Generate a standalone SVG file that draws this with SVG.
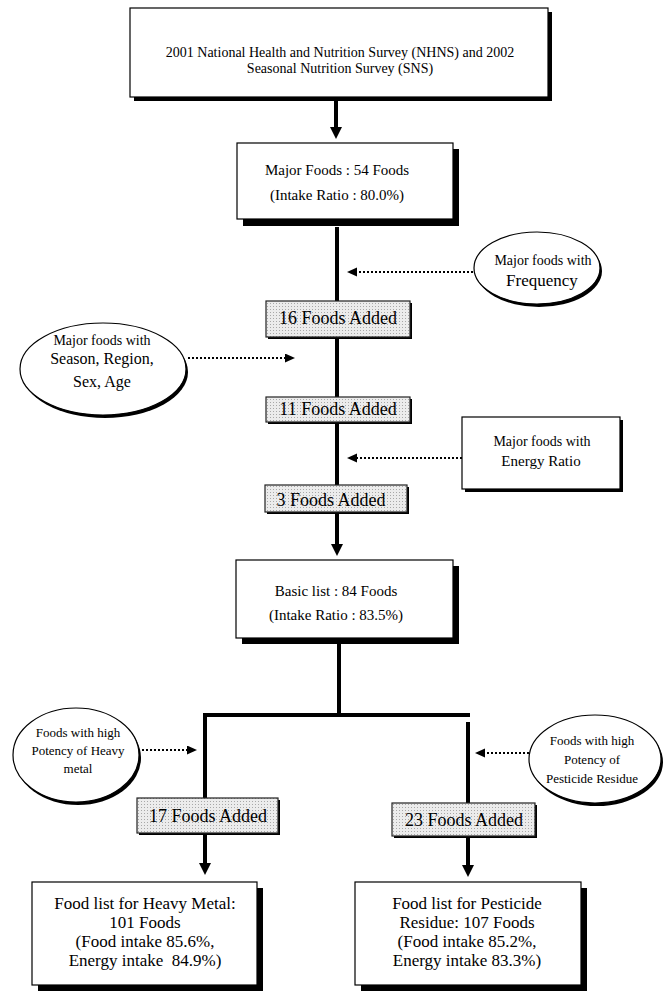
<svg xmlns="http://www.w3.org/2000/svg" width="668" height="992" viewBox="0 0 668 992">
<style>
text{font-family:"Liberation Serif","Times New Roman",serif;fill:#000;text-anchor:middle}
.box{fill:#fff;stroke:#000;stroke-width:1.2}
.shadow{fill:#000}
.added{fill:url(#dither);stroke:#222;stroke-width:1.2}
.ell{fill:#fff;stroke:#000;stroke-width:1.2}
.main{fill:none;stroke:#000;stroke-width:4}
.dot{fill:none;stroke:#000;stroke-width:2;stroke-dasharray:2 2}
.t14{font-size:14px}.t15{font-size:15px}.t16{font-size:16px}.t17{font-size:17px}.t18{font-size:18px}.t13{font-size:13px}
</style>
<defs>
<pattern id="dither" width="3" height="3" patternUnits="userSpaceOnUse">
<rect width="3" height="3" fill="#ececec"/>
<rect width="1" height="1" fill="#a8a8a8"/>
</pattern>
<marker id="head" markerUnits="userSpaceOnUse" markerWidth="12" markerHeight="12" refX="0" refY="6" orient="auto">
<path d="M0,0 L12,6 L0,12 z" fill="#000"/>
</marker>
<marker id="dhead" markerUnits="userSpaceOnUse" markerWidth="10" markerHeight="10" refX="0" refY="4.5" orient="auto">
<path d="M0,0 L10,4.5 L0,9 z" fill="#000"/>
</marker>
</defs>

<g id="connectors">
<path class="main" d="M336,101 V127" marker-end="url(#head)"/>
<path class="main" d="M337,227 V485"/>
<path class="main" d="M337,512 V544" marker-end="url(#head)"/>
<path class="main" d="M339,644 V715"/>
<path class="main" d="M203,715 H470"/>
<path class="main" d="M205,713 V863" marker-end="url(#head)"/>
<path class="main" d="M468,722 V865" marker-end="url(#head)"/>
<path class="dot" d="M473,272 H357" marker-end="url(#dhead)"/>
<path class="dot" d="M188,358 H285" marker-end="url(#dhead)"/>
<path class="dot" d="M462,458 H357" marker-end="url(#dhead)"/>
<path class="dot" d="M142,750 H187" marker-end="url(#dhead)"/>
<path class="dot" d="M529,753 H485" marker-end="url(#dhead)"/>
</g>

<g id="survey">
<rect class="shadow" x="134" y="12" width="418" height="89"/>
<rect class="box" x="130" y="8" width="418" height="89"/>
<text class="t14" x="340" y="57">2001 National Health and Nutrition Survey (NHNS) and 2002</text>
<text class="t14" x="340" y="73">Seasonal Nutrition Survey (SNS)</text>
</g>

<g id="major">
<rect class="shadow" x="243" y="149" width="216" height="77"/>
<rect class="box" x="237" y="143" width="216" height="76"/>
<text class="t15" x="337" y="175">Major Foods : 54 Foods</text>
<text class="t15" x="337" y="200">(Intake Ratio : 80.0%)</text>
</g>

<g id="frequency">
<ellipse class="shadow" cx="539" cy="271" rx="63" ry="36"/>
<ellipse class="ell" cx="537" cy="268" rx="63" ry="36"/>
<text class="t14" x="543" y="265">Major foods with</text>
<text class="t17" x="542" y="286">Frequency</text>
</g>

<g id="added16">
<rect class="shadow" x="268" y="303" width="144" height="36"/>
<rect class="added" x="266" y="301" width="144" height="36"/>
<text class="t18" x="338" y="324">16 Foods Added</text>
</g>

<g id="season">
<ellipse class="shadow" cx="105" cy="372" rx="83" ry="46"/>
<ellipse class="ell" cx="103" cy="369" rx="83" ry="46"/>
<text class="t14" x="102" y="345">Major foods with</text>
<text class="t16" x="102" y="364">Season, Region,</text>
<text class="t16" x="102" y="387">Sex, Age</text>
</g>

<g id="added11">
<rect class="shadow" x="268" y="399" width="144" height="25"/>
<rect class="added" x="266" y="397" width="144" height="25"/>
<text class="t18" x="338" y="415">11 Foods Added</text>
</g>

<g id="energy">
<rect class="shadow" x="465" y="420" width="158" height="72"/>
<rect class="box" x="462" y="417" width="158" height="72"/>
<text class="t14" x="542" y="446">Major foods with</text>
<text class="t15" x="541" y="466">Energy Ratio</text>
</g>

<g id="added3">
<rect class="shadow" x="267" y="487" width="142" height="27"/>
<rect class="added" x="265" y="485" width="142" height="27"/>
<text class="t18" x="331" y="506">3 Foods Added</text>
</g>

<g id="basic">
<rect class="shadow" x="242" y="566" width="217" height="78"/>
<rect class="box" x="236" y="560" width="217" height="78"/>
<text class="t15" x="336" y="596">Basic list : 84 Foods</text>
<text class="t15" x="336" y="620">(Intake Ratio : 83.5%)</text>
</g>

<g id="heavy">
<ellipse class="shadow" cx="78" cy="758" rx="63" ry="47"/>
<ellipse class="ell" cx="76" cy="755" rx="63" ry="47"/>
<text class="t13" x="78" y="737">Foods with high</text>
<text class="t13" x="78" y="755">Potency of Heavy</text>
<text class="t13" x="78" y="773">metal</text>
</g>

<g id="pesticide">
<ellipse class="shadow" cx="597" cy="762" rx="66" ry="44"/>
<ellipse class="ell" cx="595" cy="759" rx="66" ry="44"/>
<text class="t13" x="592" y="745">Foods with high</text>
<text class="t13" x="592" y="764">Potency of</text>
<text class="t13" x="592" y="783">Pesticide Residue</text>
</g>

<g id="added17">
<rect class="shadow" x="139" y="800" width="141" height="35"/>
<rect class="added" x="137" y="798" width="141" height="35"/>
<text class="t18" x="208" y="822">17 Foods Added</text>
</g>

<g id="added23">
<rect class="shadow" x="394" y="805" width="143" height="33"/>
<rect class="added" x="392" y="803" width="143" height="33"/>
<text class="t18" x="464" y="826">23 Foods Added</text>
</g>

<g id="heavylist">
<rect class="shadow" x="38" y="888" width="225" height="103"/>
<rect class="box" x="32" y="882" width="225" height="103"/>
<text class="t17" x="145" y="909">Food list for Heavy Metal:</text>
<text class="t17" x="145" y="928">101 Foods</text>
<text class="t17" x="145" y="947">(Food intake 85.6%,</text>
<text class="t17" x="145" y="966">Energy intake&#160; 84.9%)</text>
</g>

<g id="pesticidelist">
<rect class="shadow" x="361" y="888" width="226" height="103"/>
<rect class="box" x="355" y="882" width="226" height="103"/>
<text class="t17" x="467" y="909">Food list for Pesticide</text>
<text class="t17" x="467" y="928">Residue: 107 Foods</text>
<text class="t17" x="467" y="947">(Food intake 85.2%,</text>
<text class="t17" x="467" y="966">Energy intake 83.3%)</text>
</g>
</svg>
